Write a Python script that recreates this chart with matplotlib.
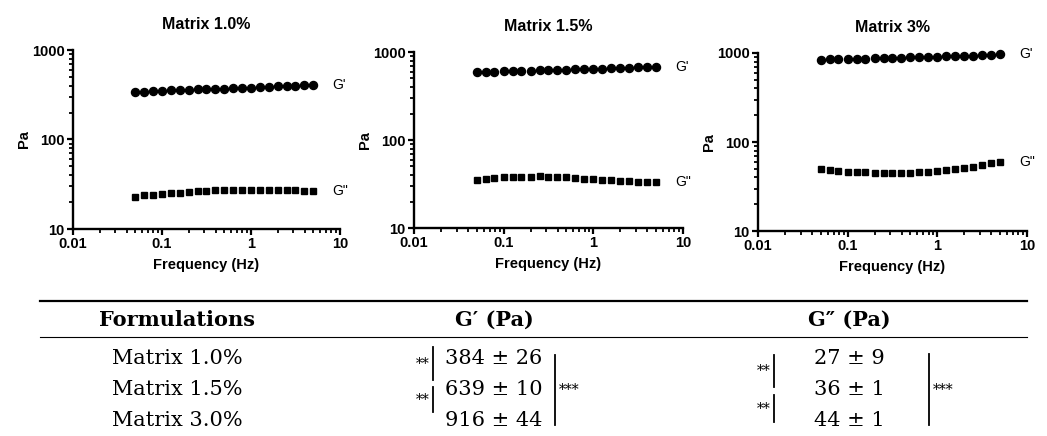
import numpy as np
import matplotlib
matplotlib.use("Agg")
import matplotlib.pyplot as plt
from matplotlib.ticker import LogLocator, FixedLocator, FixedFormatter, NullFormatter

# frequency sweep (Hz), 21 points
freq = [0.05, 0.063, 0.079, 0.1, 0.126, 0.158, 0.2, 0.251, 0.316, 0.398, 0.5,
        0.63, 0.79, 1.0, 1.26, 1.58, 2.0, 2.51, 3.16, 3.98, 5.0]

titles = ["Matrix 1.0%", "Matrix 1.5%", "Matrix 3%"]

g1_10 = [337, 343, 347, 350, 353, 356, 359, 362, 365, 368, 371,
         374, 377, 380, 384, 388, 392, 396, 400, 405, 410]
g2_10 = [22.5, 24, 24, 24.5, 25, 25.5, 26, 26.5, 26.5, 27, 27,
         27, 27.5, 27.5, 27.5, 27.5, 27, 27, 27, 26.5, 26.5]

g1_15 = [590, 595, 600, 604, 608, 612, 616, 620, 624, 628, 632,
         636, 640, 644, 648, 652, 657, 662, 667, 673, 680]
g2_15 = [35, 36.5, 37, 37.5, 37.5, 37.5, 38, 38.5, 38, 38, 37.5,
         37, 36.5, 36, 35.5, 35, 34.5, 34, 33.5, 33, 33]

g1_30 = [840, 846, 852, 857, 862, 867, 872, 877, 882, 887, 892,
         897, 902, 908, 914, 920, 927, 934, 942, 952, 962]
g2_30 = [50, 48.5, 47.5, 46.5, 46, 45.5, 45, 44.5, 44.5, 44.5, 45,
         45.5, 46, 47, 48, 49.5, 51, 53, 55, 57.5, 60]

gp_all = [g1_10, g1_15, g1_30]
gpp_all = [g2_10, g2_15, g2_30]

# table contents
row_names = ["Matrix 1.0%", "Matrix 1.5%", "Matrix 3.0%"]
gp_txt = ["384 \u00b1 26", "639 \u00b1 10", "916 \u00b1 44"]
gpp_txt = ["27 \u00b1 9", "36 \u00b1 1", "44 \u00b1 1"]
headers = ["Formulations", "G\u2032 (Pa)", "G\u2033 (Pa)"]

W, H = 1047, 436
fig = plt.figure(figsize=(W / 100, H / 100), dpi=100)
plt.rcParams['font.family'] = ['Liberation Sans', 'DejaVu Sans']

# axes boxes in pixels: left, right, top, bottom
boxes = [(73, 340, 50, 229), (414, 683, 52, 228), (758, 1027, 53, 231)]

for i, (l, r, t, b) in enumerate(boxes):
    ax = fig.add_axes([l / W, 1 - b / H, (r - l) / W, (b - t) / H])
    ax.plot(freq, gp_all[i], 'o', color='black', ms=5.8, clip_on=False)
    ax.plot(freq, gpp_all[i], 's', color='black', ms=4.9, clip_on=False)
    ax.set_xscale('log')
    ax.set_yscale('log')
    ax.set_xlim(0.01, 10)
    ax.set_ylim(10, 1000)
    for s in ['top', 'right']:
        ax.spines[s].set_visible(False)
    for s in ['left', 'bottom']:
        ax.spines[s].set_linewidth(1.7)
    ax.xaxis.set_major_locator(FixedLocator([0.01, 0.1, 1, 10]))
    ax.xaxis.set_major_formatter(FixedFormatter(['0.01', '0.1', '1', '10']))
    ax.yaxis.set_major_locator(FixedLocator([10, 100, 1000]))
    ax.yaxis.set_major_formatter(FixedFormatter(['10', '100', '1000']))
    ax.xaxis.set_minor_locator(LogLocator(base=10, subs=np.arange(2, 10)))
    ax.yaxis.set_minor_locator(LogLocator(base=10, subs=np.arange(2, 10)))
    ax.xaxis.set_minor_formatter(NullFormatter())
    ax.yaxis.set_minor_formatter(NullFormatter())
    ax.tick_params(which='major', length=4.5, width=1.6, labelsize=10.5, pad=1.5)
    ax.tick_params(which='minor', length=2.8, width=1.3)
    for lab in ax.get_xticklabels() + ax.get_yticklabels():
        lab.set_fontweight('bold')
    ax.set_xlabel('Frequency (Hz)', fontsize=10.5, fontweight='bold', labelpad=5)
    ax.set_ylabel('Pa', fontsize=10.5, fontweight='bold', labelpad=1)
    ax.set_title(titles[i], fontsize=11.5, fontweight='bold', pad=15)
    ax.annotate("G'", (freq[-1], gp_all[i][-1]), xytext=(14, 0),
                textcoords='offset points', va='center', fontsize=10,
                annotation_clip=False)
    ax.annotate('G"', (freq[-1], gpp_all[i][-1]), xytext=(14, 0),
                textcoords='offset points', va='center', fontsize=10,
                annotation_clip=False)

# table drawn in pixel coordinates
tx = fig.add_axes([0, 0, 1, 1], zorder=-1)
tx.set_xlim(0, W)
tx.set_ylim(H, 0)
tx.axis('off')
serif = ['DejaVu Serif']
tx.plot([40, 1027], [301, 301], color='black', lw=1.6)
tx.plot([40, 1027], [337, 337], color='black', lw=0.8)
col_x = [177, 494, 849]
for x, h in zip(col_x, headers):
    tx.text(x, 320, h, ha='center', va='center', fontsize=15,
            fontweight='bold', family=serif)
row_y = [358, 389, 420]
for y, n, a, b in zip(row_y, row_names, gp_txt, gpp_txt):
    tx.text(col_x[0], y, n, ha='center', va='center', fontsize=15, family=serif)
    tx.text(col_x[1], y, a, ha='center', va='center', fontsize=15, family=serif)
    tx.text(col_x[2], y, b, ha='center', va='center', fontsize=15, family=serif)

# significance brackets
def sig(x, y0, y1, label, side):
    tx.plot([x, x], [y0, y1], color='black', lw=1.3)
    if side == 'left':
        tx.text(x - 3, (y0 + y1) / 2, label, ha='right', va='center',
                fontsize=10, family=serif)
    else:
        tx.text(x + 4, (y0 + y1) / 2, label, ha='left', va='center',
                fontsize=10, family=serif)

sig(433, 347, 380, '**', 'left')
sig(433, 387, 412, '**', 'left')
sig(555, 355, 425, '***', 'right')
sig(774, 355, 387, '**', 'left')
sig(774, 395, 422, '**', 'left')
sig(929, 354, 425, '***', 'right')

fig.savefig('out.png', dpi=100)
